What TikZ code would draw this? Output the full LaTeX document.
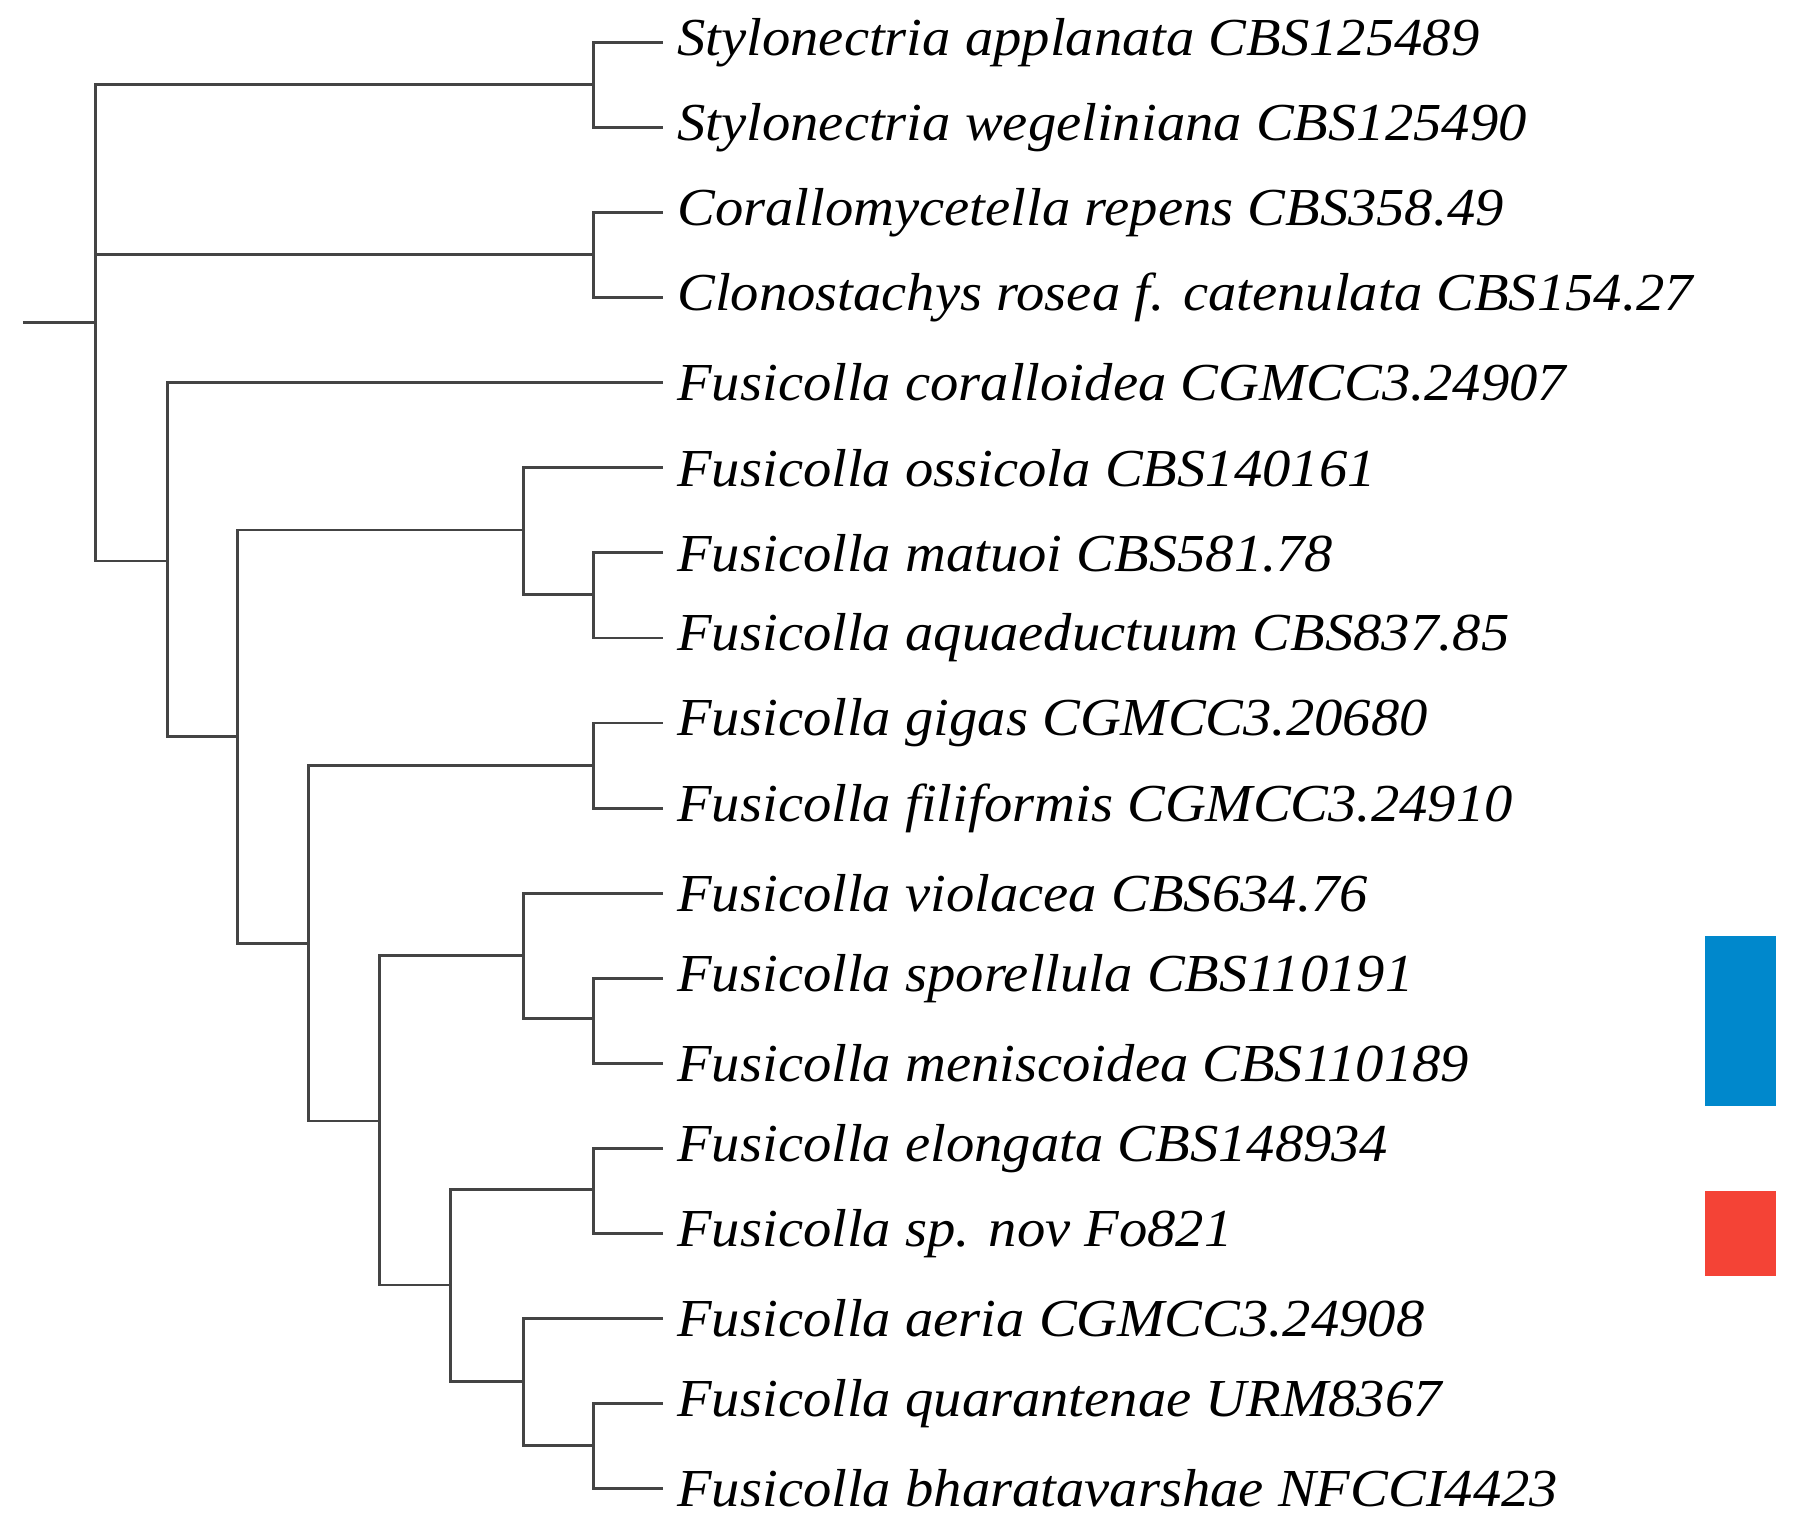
\documentclass[tikz,border=0pt]{standalone}
\usepackage{fontspec}
\setmainfont{Liberation Serif}[FakeStretch=1.06]
\definecolor{br}{HTML}{444444}
\definecolor{cblue}{HTML}{0088CC}
\definecolor{cred}{HTML}{F44336}
\begin{document}
\begin{tikzpicture}[x=0.02cm,y=-0.02cm,
  leaf/.style={anchor=west,inner xsep=12*0.02cm,inner ysep=0pt,font=\fontsize{26.5}{30}\selectfont\itshape},
  br/.style={draw=br,line width=1.4pt}]
\useasboundingbox (0,0) rectangle (1568,1336);
\foreach \n/\t [count=\i from 0] in {
 l0/{Stylonectria applanata CBS125489},
 l1/{Stylonectria wegeliniana CBS125490},
 l2/{Corallomycetella repens CBS358.49},
 l3/{Clonostachys rosea f. catenulata CBS154.27},
 l4/{Fusicolla coralloidea CGMCC3.24907},
 l5/{Fusicolla ossicola CBS140161},
 l6/{Fusicolla matuoi CBS581.78},
 l7/{Fusicolla aquaeductuum CBS837.85},
 l8/{Fusicolla gigas CGMCC3.20680},
 l9/{Fusicolla filiformis CGMCC3.24910},
 l10/{Fusicolla violacea CBS634.76},
 l11/{Fusicolla sporellula CBS110191},
 l12/{Fusicolla meniscoidea CBS110189},
 l13/{Fusicolla elongata CBS148934},
 l14/{Fusicolla sp. nov Fo821},
 l15/{Fusicolla aeria CGMCC3.24908},
 l16/{Fusicolla quarantenae URM8367},
 l17/{Fusicolla bharatavarshae NFCCI4423}}
 \node[leaf] (\n) at (578,{37+74.15*\i}) {\t};
\coordinate (root) at (20,281);
\coordinate (n0) at (83,281);
\coordinate (a) at (517,74);
\coordinate (b) at (517,222);
\coordinate (c) at (146,489);
\coordinate (d) at (207,642);
\coordinate (e) at (456,462);
\coordinate (f) at (517,518);
\coordinate (g) at (269,822);
\coordinate (h) at (517,667);
\coordinate (i) at (331,977);
\coordinate (j) at (456,833);
\coordinate (k) at (517,888);
\coordinate (m) at (393,1120);
\coordinate (o) at (517,1037);
\coordinate (p) at (456,1204);
\coordinate (q) at (517,1260);
\draw[br] (root) -- (n0);
\draw[br] (n0) |- (a); \draw[br] (n0) |- (b); \draw[br] (n0) |- (c);
\draw[br] (a) |- (l0.west); \draw[br] (a) |- (l1.west);
\draw[br] (b) |- (l2.west); \draw[br] (b) |- (l3.west);
\draw[br] (c) |- (l4.west); \draw[br] (c) |- (d);
\draw[br] (d) |- (e); \draw[br] (d) |- (g);
\draw[br] (e) |- (l5.west); \draw[br] (e) |- (f);
\draw[br] (f) |- (l6.west); \draw[br] (f) |- (l7.west);
\draw[br] (g) |- (h); \draw[br] (g) |- (i);
\draw[br] (h) |- (l8.west); \draw[br] (h) |- (l9.west);
\draw[br] (i) |- (j); \draw[br] (i) |- (m);
\draw[br] (j) |- (l10.west); \draw[br] (j) |- (k);
\draw[br] (k) |- (l11.west); \draw[br] (k) |- (l12.west);
\draw[br] (m) |- (o); \draw[br] (m) |- (p);
\draw[br] (o) |- (l13.west); \draw[br] (o) |- (l14.west);
\draw[br] (p) |- (l15.west); \draw[br] (p) |- (q);
\draw[br] (q) |- (l16.west); \draw[br] (q) |- (l17.west);
\fill[cblue] (1486,816) rectangle (1548,964);
\fill[cred] (1486,1038) rectangle (1548,1112);
\end{tikzpicture}
\end{document}
